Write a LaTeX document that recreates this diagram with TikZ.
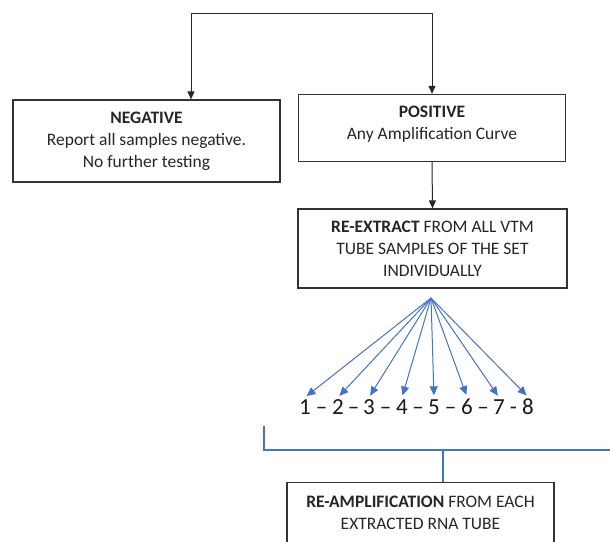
\documentclass[tikz,border=0pt]{standalone}
\usepackage{fontspec}
\setmainfont{Carlito}
\usetikzlibrary{positioning}
\usetikzlibrary{calc}
\usetikzlibrary{arrows.meta}
\definecolor{offblue}{RGB}{68,114,196}
\tikzset{
    mybox/.style = {rectangle, draw=black!80, line width=1.3pt, align=center, fill=white, font=\fontsize{17.5}{22}\selectfont, text=black!85, inner sep=0pt},
    mydigit/.style = {inner sep=2pt, font=\fontsize{23}{25}\selectfont, text=black!90},
    mydash/.style = {inner sep=0pt, anchor=base, font=\fontsize{23}{25}\selectfont, text=black!90},
    edgek/.style = {-{Triangle[length=8pt,width=7pt]}, line width=1pt, black!85},
    edgeb/.style = {-{Triangle[length=9pt,width=8pt]}, line width=1pt, offblue},
    edgebl/.style = {-, line width=1.2pt, offblue}
}
\begin{document}
\begin{tikzpicture}[x=1pt,y=-1pt]
  \useasboundingbox (0,0) rectangle (610,541);
  \clip (0,0) rectangle (610,541);
  % boxes
  \node[mybox, minimum width=267pt, minimum height=82pt] (neg) at (146.5,141) {\textbf{NEGATIVE}\\Report all samples negative.\\No further testing};
  \node[mybox, minimum width=267pt, minimum height=67pt] (pos) at (432,128) {\textbf{POSITIVE}\\Any Amplification Curve\\[-12pt]\mbox{}};
  \node[mybox, minimum width=269pt, minimum height=79pt] (rex) at (432.5,248.5) {\textbf{RE-EXTRACT} FROM ALL VTM\\TUBE SAMPLES OF THE SET\\INDIVIDUALLY};
  \node[mybox, minimum width=267pt, minimum height=60pt, anchor=north] (ramp) at (420.5,482) {\textbf{RE-AMPLIFICATION} FROM EACH\\EXTRACTED RNA TUBE};
  % split on top
  \coordinate (topL) at (191,13);
  \coordinate (topR) at (432,13);
  \draw[edgek] (topR) -- (topL) -- (topL |- neg.north);
  \draw[edgek] (topR) -- (pos.north);
  \draw[edgek] (pos.south) -- (rex.north);
  % samples
  \coordinate (fan) at (431,298);
  \node[mydigit] (n1) at (305,407) {1};
  \node[mydigit] (n2) at (338,407) {2};
  \node[mydigit] (n3) at (369,407) {3};
  \node[mydigit] (n4) at (402,407) {4};
  \node[mydigit] (n5) at (434,407) {5};
  \node[mydigit] (n6) at (467,407) {6};
  \node[mydigit] (n7) at (499,407) {7};
  \node[mydigit] (n8) at (528,407) {8};
  \foreach \a/\b in {1/2,2/3,3/4,4/5,5/6,6/7}
    \node[mydash] (d\a) at ($(n\a.base)!0.5!(n\b.base)$) {--};
  \node[mydash] (d7) at ($(n7.base)!0.5!(n8.base)$) {-};
  \foreach \i in {1,...,8}
    \draw[edgeb, shorten >=2pt] (fan) -- (n\i.north);
  % bracket
  \coordinate (brL) at (264,426);
  \coordinate (brR) at (612,450);
  \coordinate (brM) at (443,450);
  \draw[edgebl] (brL) |- (brR);
  \draw[edgebl] (brM) -- (brM |- ramp.north);
\end{tikzpicture}
\end{document}
